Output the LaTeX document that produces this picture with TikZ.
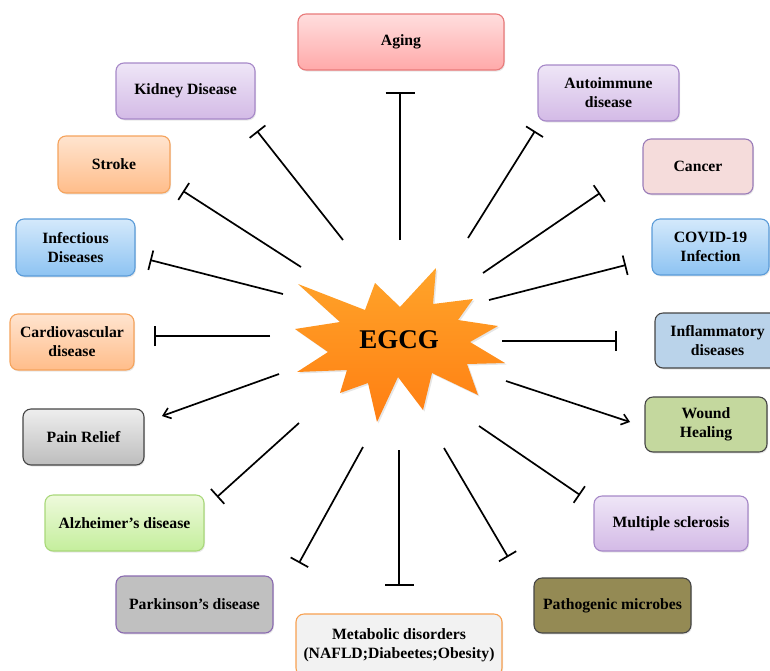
\documentclass[tikz,border=0pt]{standalone}
\usepackage{fontspec}
\setmainfont{Liberation Serif}
\usetikzlibrary{arrows.meta,shadows}
\definecolor{pinkT}{HTML}{FFDEDE}\definecolor{pinkB}{HTML}{FFA9A9}\definecolor{pinkD}{HTML}{E87A7A}
\definecolor{lavT}{HTML}{EFE6F7}\definecolor{lavB}{HTML}{D3BAE6}\definecolor{lavD}{HTML}{A688C8}
\definecolor{orT}{HTML}{FFE4CF}\definecolor{orB}{HTML}{FFBD8A}\definecolor{orD}{HTML}{F5A35C}
\definecolor{bluT}{HTML}{D4E9FB}\definecolor{bluB}{HTML}{8DC3F2}\definecolor{bluD}{HTML}{5A9BD8}
\definecolor{canF}{HTML}{F5DCDB}\definecolor{canD}{HTML}{9A7CB8}
\definecolor{infF}{HTML}{BAD3EA}\definecolor{darkD}{HTML}{454545}
\definecolor{gryT}{HTML}{EEEEEE}\definecolor{gryB}{HTML}{BDBDBD}
\definecolor{wndF}{HTML}{C4D89E}
\definecolor{grnT}{HTML}{EEFADC}\definecolor{grnB}{HTML}{C4EE9C}\definecolor{grnD}{HTML}{A9D87A}
\definecolor{parF}{HTML}{C0C0C0}\definecolor{parD}{HTML}{8A6AB0}
\definecolor{metF}{HTML}{F2F2F2}\definecolor{metD}{HTML}{F7A050}
\definecolor{patF}{HTML}{948A54}
\definecolor{starT}{HTML}{FFA42A}\definecolor{starB}{HTML}{FF7E12}
\begin{document}
\begin{tikzpicture}[x=1pt,y=-1pt,
  box/.style={draw, rounded corners=8pt, line width=1.1pt, inner sep=0pt, align=center,
    font=\fontsize{15.7}{19}\selectfont\bfseries, text=black,
    drop shadow={opacity=0.18, shadow xshift=1pt, shadow yshift=-1.5pt}},
  inh/.style={line width=1.7pt, -{Bar[width=20pt,line width=1.7pt]}},
  inhw/.style={line width=1.7pt, -{Bar[width=29pt,line width=1.7pt]}},
  act/.style={line width=1.7pt, -{Straight Barb[length=7pt,width=11pt,line width=1.6pt]}}]
\useasboundingbox (0,0) rectangle (770,670);

% central star
\path[top color=starT, bottom color=starB, drop shadow={opacity=0.2, shadow xshift=1.5pt, shadow yshift=-1.5pt}]
 (298,284) -- (365,310) -- (375,283) -- (400,307) -- (436,268) -- (433,304) -- (473,299)
 -- (458,320) -- (498,326) -- (470,342) -- (505,363) -- (467,364) -- (478,395) -- (432,373)
 -- (423,410) -- (398,377) -- (377,422) -- (368,383) -- (340,393) -- (347,370) -- (297,372)
 -- (328,352) -- (295,329) -- (340,322) -- cycle;
\node[font=\fontsize{27}{30}\selectfont\bfseries] (egcg) at (399,340) {EGCG};

% boxes
\node[box, draw=pinkD, top color=pinkT, bottom color=pinkB, minimum width=206pt, minimum height=56pt] (aging) at (401,42) {Aging};
\node[box, draw=lavD, top color=lavT, bottom color=lavB, minimum width=139pt, minimum height=56pt] (kidney) at (185.5,91) {Kidney Disease};
\node[box, draw=orD, top color=orT, bottom color=orB, minimum width=112pt, minimum height=57pt] (stroke) at (114,164.5) {Stroke};
\node[box, draw=lavD, top color=lavT, bottom color=lavB, minimum width=141pt, minimum height=56pt] (auto) at (608.5,93) {Autoimmune\\disease};
\node[box, draw=canD, fill=canF, minimum width=110pt, minimum height=55pt] (cancer) at (698,166.5) {Cancer};
\node[box, draw=bluD, top color=bluT, bottom color=bluB, minimum width=119pt, minimum height=57pt] (infect) at (75.5,247.5) {Infectious\\Diseases};
\node[box, draw=bluD, top color=bluT, bottom color=bluB, minimum width=117pt, minimum height=56pt] (covid) at (710.5,247) {COVID-19\\Infection};
\node[box, draw=orD, top color=orT, bottom color=orB, minimum width=124pt, minimum height=56pt] (cardio) at (72,342) {Cardiovascular\\disease};
\node[box, draw=darkD, fill=infF, minimum width=125pt, minimum height=55pt] (inflam) at (717.5,340.5) {Inflammatory\\diseases};
\node[box, draw=darkD, top color=gryT, bottom color=gryB, minimum width=121pt, minimum height=56pt] (pain) at (83.5,437) {Pain Relief};
\node[box, draw=darkD, fill=wndF, minimum width=122pt, minimum height=55pt] (wound) at (706,424.5) {Wound\\Healing};
\node[box, draw=grnD, top color=grnT, bottom color=grnB, minimum width=159pt, minimum height=56pt] (alz) at (124.5,523) {Alzheimer’s disease};
\node[box, draw=lavD, top color=lavT, bottom color=lavB, minimum width=154pt, minimum height=55pt] (ms) at (671,523.5) {Multiple sclerosis};
\node[box, draw=parD, fill=parF, minimum width=157pt, minimum height=57pt] (park) at (194.5,604.5) {Parkinson’s disease};
\node[box, draw=darkD, fill=patF, minimum width=157pt, minimum height=55pt] (patho) at (612.5,605.5) {Pathogenic microbes};
\node[box, draw=metD, fill=metF, minimum width=206pt, minimum height=62pt] (meta) at (399,645) {Metabolic disorders\\(NAFLD;Diabeetes;Obesity)};

% connector end points
\coordinate (s-aging) at (400,240);  \coordinate (e-aging) at (400,92);
\coordinate (s-kid) at (343,240);    \coordinate (e-kid) at (257,131);
\coordinate (s-str) at (301,267);    \coordinate (e-str) at (183,191);
\coordinate (s-inf) at (283,294);    \coordinate (e-inf) at (150,260);
\coordinate (s-car) at (270,336);    \coordinate (e-car) at (154,336);
\coordinate (s-pain) at (279,374);   \coordinate (e-pain) at (162,416);
\coordinate (s-alz) at (299,423);    \coordinate (e-alz) at (217,497);
\coordinate (s-par) at (363,447);    \coordinate (e-par) at (299,563);
\coordinate (s-met) at (399,450);    \coordinate (e-met) at (399,586);
\coordinate (s-pat) at (444,448);    \coordinate (e-pat) at (508,557);
\coordinate (s-ms) at (479,426);     \coordinate (e-ms) at (580,495);
\coordinate (s-wnd) at (506,381);    \coordinate (e-wnd) at (630,422);
\coordinate (s-infl) at (502,341);   \coordinate (e-infl) at (617,341);
\coordinate (s-cov) at (489,300);    \coordinate (e-cov) at (626,265);
\coordinate (s-can) at (483,273);    \coordinate (e-can) at (600,193);
\coordinate (s-aut) at (468,238);    \coordinate (e-aut) at (535,131);

\draw[inhw] (s-aging) -- (e-aging);
\draw[inh] (s-kid) -- (e-kid);
\draw[inh] (s-str) -- (e-str);
\draw[inh] (s-inf) -- (e-inf);
\draw[inh] (s-car) -- (e-car);
\draw[act] (s-pain) -- (e-pain);
\draw[inh] (s-alz) -- (e-alz);
\draw[inh] (s-par) -- (e-par);
\draw[inhw] (s-met) -- (e-met);
\draw[inh] (s-pat) -- (e-pat);
\draw[inh] (s-ms) -- (e-ms);
\draw[act] (s-wnd) -- (e-wnd);
\draw[inh] (s-infl) -- (e-infl);
\draw[inh] (s-cov) -- (e-cov);
\draw[inh] (s-can) -- (e-can);
\draw[inh] (s-aut) -- (e-aut);
\end{tikzpicture}
\end{document}
